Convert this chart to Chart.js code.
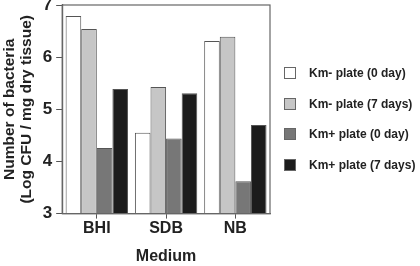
<!DOCTYPE html>
<html>
<head>
<meta charset="utf-8">
<script src="https://cdn.jsdelivr.net/npm/chart.js@4.4.0/dist/chart.umd.min.js"></script>
<style>
  html, body { margin:0; padding:0; background:#fff; }
  #wrap { position:relative; width:420px; height:266px; }
  #legend { position:absolute; left:284px; top:58px; font:bold 12px "Liberation Sans", Arial, sans-serif; color:#222; }
  #legend .item { display:flex; align-items:center; height:30.5px; }
  #legend .box { width:12px; height:12px; box-sizing:border-box; border:1px solid #666; margin-right:13px; }
</style>
</head>
<body>
<div id="wrap">
  <canvas id="chart" width="420" height="266"></canvas>
  <div id="legend"></div>
</div>
<script>
const categories = ['BHI', 'SDB', 'NB'];
const seriesNames = ['Km- plate (0 day)', 'Km- plate (7 days)', 'Km+ plate (0 day)', 'Km+ plate (7 days)'];
const kmMinus0 = [6.79, 4.55, 6.31];
const kmMinus7 = [6.54, 5.43, 6.39];
const kmPlus0 = [4.26, 4.44, 3.62];
const kmPlus7 = [5.39, 5.31, 4.70];
const yTicks = [3, 4, 5, 6, 7];

const fills = ['#ffffff', '#c6c6c6', '#777777', '#1c1c1c'];
const seriesValues = [kmMinus0, kmMinus7, kmPlus0, kmPlus7];
const font = '"Liberation Sans", Arial, sans-serif';

// box round the plot area
const frame = {
  id: 'frame',
  afterDraw(chart){
    const { ctx, chartArea: a } = chart;
    ctx.save();
    ctx.strokeStyle = '#666';
    ctx.lineWidth = 1.2;
    ctx.strokeRect(a.left, a.top, a.right - a.left, a.bottom - a.top);
    ctx.restore();
  }
};

new Chart(document.getElementById('chart').getContext('2d'), {
  type: 'bar',
  data: {
    labels: categories,
    datasets: seriesNames.map((name, i) => ({
      label: name,
      data: seriesValues[i],
      backgroundColor: fills[i],
      borderColor: '#555',
      borderWidth: 1,
      borderSkipped: 'bottom',
      categoryPercentage: 0.9,
      barPercentage: 1.0
    }))
  },
  options: {
    responsive: false,
    animation: false,
    layout: { padding: { left: 1, right: 150, top: 5, bottom: 0 } },
    plugins: { legend: { display: false }, tooltip: { enabled: false } },
    scales: {
      x: {
        grid: { offset: false, drawOnChartArea: false, tickLength: 5, color: '#555' },
        border: { color: '#666', width: 1.2 },
        ticks: { color: '#222', font: { family: font, size: 16, weight: 'bold' }, padding: 0 },
        title: { display: true, text: 'Medium', color: '#222', font: { family: font, size: 16, weight: 'bold' }, padding: { top: 9, bottom: 0 } }
      },
      y: {
        min: 3, max: 7,
        afterBuildTicks(scale){ scale.ticks = yTicks.map(v => ({ value: v })); },
        // let the "7" label overhang the top edge like the original
        afterFit(scale){ scale.paddingTop = 0; },
        grid: { drawOnChartArea: false, tickLength: 6, color: '#555' },
        border: { color: '#666', width: 1.2 },
        ticks: { color: '#222', font: { family: font, size: 17, weight: 'bold' }, padding: 4 },
        title: { display: true, text: ['Number of bacteria', '(Log CFU / mg dry tissue)'], color: '#222',
                 font: { family: font, size: 15.5, weight: 'bold', lineHeight: 1.12 }, padding: { top: 0, bottom: 3 } }
      }
    }
  },
  plugins: [frame]
});

const legend = document.getElementById('legend');
seriesNames.forEach((name, i) => {
  const item = document.createElement('div');
  item.className = 'item';
  item.innerHTML = `<span class="box" style="background:${fills[i]}"></span><span>${name}</span>`;
  legend.appendChild(item);
});
</script>
</body>
</html>
